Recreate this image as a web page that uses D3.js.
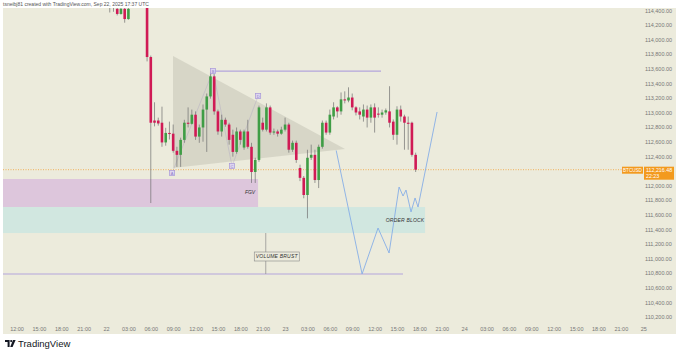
<html>
<meta charset="utf-8" />
<script src="https://d3js.org/d3.v7.min.js"></script>
<style>
  body { margin: 0; background: #fff; }
  text { font-family: "Liberation Sans", Arial, sans-serif; }
</style>
<body>
<script>
  // 30 min BTCUSD candles, first one at Sep 22 00:30
  const firstBar = new Date(Date.UTC(2025, 8, 22, 0, 30));
  const candleOpen = [
    114520, 114500, 114420, 114350, 114420, 114280, 114600, 114700, 114650, 114760,
    114800, 113760, 112890, 112890, 112860, 112590, 112720, 112710, 112475, 112420,
    112625, 112860, 112845, 112970, 112670, 112795, 113040, 113220, 113495, 113015,
    112740, 112900, 112835, 112695, 112460, 112740, 112520, 112740, 112530, 112185,
    112350, 112860, 112765, 113070, 112725, 112740, 112710, 112765, 112835, 112490,
    112585, 112240, 112105, 111870, 112380, 112420, 112075, 112530, 112860, 112725,
    112945, 113070, 113015, 113180, 113165, 113205, 113070, 113015, 112945, 113040,
    112930, 113070, 112985, 112970, 113000, 113015, 112875, 112695, 113040, 112945,
    112860, 112860, 112420
  ];
  const candleHigh = [
    114560, 114540, 114470, 114460, 114480, 114490, 114760, 114800, 114820, 114850,
    114850, 113780, 113140, 112930, 113080, 112790, 112875, 112835, 112530, 112655,
    112900, 113070, 113040, 113015, 112835, 113110, 113260, 113550, 113525, 113040,
    112970, 112930, 112860, 112765, 112795, 112765, 112765, 112900, 112585, 112380,
    113095, 112930, 113125, 113095, 112780, 112765, 112805, 112930, 112860, 112615,
    112615, 112285, 112130, 112490, 112560, 112490, 112560, 112890, 112890, 113040,
    113140, 113085, 113275, 113290, 113345, 113260, 113085, 113070, 113110, 113095,
    113110, 113125, 113070, 113040, 113055, 113360, 112905, 113085, 113095, 112970,
    112945, 112875, 112450
  ];
  const candleLow = [
    114370, 114380, 114330, 114340, 114230, 114270, 114520, 114560, 114600, 114620,
    113700, 111760, 112810, 112820, 112530, 112545, 112630, 112450, 112255, 112255,
    112585, 112795, 112835, 112625, 112585, 112600, 112460, 113190, 112970, 112695,
    112670, 112805, 112560, 112395, 112435, 112560, 112490, 112505, 112035, 112035,
    112325, 112740, 112740, 112695, 112695, 112670, 112695, 112740, 112450, 112460,
    112310, 112060, 111825, 111550, 112350, 112035, 111965, 112505, 112695, 112695,
    112905, 112930, 112970, 113125, 113140, 113030, 112960, 112905, 112875, 112795,
    112860, 112725, 112930, 112930, 112970, 112795, 112625, 112560, 112875, 112490,
    112490, 112395, 112185
  ];
  const candleClose = [
    114500, 114470, 114350, 114420, 114280, 114420, 114700, 114650, 114760, 114700,
    113760, 112860, 112860, 112850, 112590, 112720, 112705, 112475, 112420, 112625,
    112860, 112845, 112970, 112670, 112795, 113040, 113220, 113495, 113015, 112740,
    112900, 112835, 112625, 112460, 112740, 112625, 112740, 112530, 112185, 112350,
    113070, 112765, 113070, 112725, 112740, 112710, 112765, 112835, 112490, 112585,
    112350, 112105, 111870, 112380, 112420, 112075, 112530, 112860, 112725, 112970,
    113070, 113015, 113180, 113165, 113205, 113070, 113000, 112970, 113040, 112930,
    113070, 112930, 112970, 113000, 113030, 112860, 112695, 113040, 112945, 112860,
    112845, 112420, 112216.48
  ];
  const lastPrice = 112216.48;

  const priceTicks = d3.range(110200, 114401, 200);
  const timeTickLabels = [
    "12:00", "15:00", "18:00", "21:00", "22", "03:00", "06:00", "09:00", "12:00", "15:00",
    "18:00", "21:00", "23", "03:00", "06:00", "09:00", "12:00", "15:00", "18:00", "21:00",
    "24", "03:00", "06:00", "09:00", "12:00", "15:00", "18:00", "21:00", "25"
  ];

  // drawings: hours after Sep 22 00:00, price
  const trianglePts = [[8.98, 113774], [32.04, 112500], [8.98, 112240]];
  const patternPts = [[8.85, 112171], [14.34, 113568], [16.89, 112267], [20.38, 113226]];
  const patternLabels = ["A", "B", "C", "D"];
  const topLine = [[14.34, 113568], [36.86, 113568]];
  const lowLine = [[-12, 110788], [39.81, 110788]];
  const fgvZone = [[-12, 112089], [20.38, 111705]];
  const orderBlock = [[-12, 111705], [42.76, 111349]];
  const volumeMark = [[21.41, 111349], [21.41, 110788]];
  const projection = [
    [30.85, 112480], [34.32, 110788], [36.46, 111418], [37.94, 111075], [39.28, 111979],
    [39.81, 111856], [40.21, 111938], [40.88, 111637], [41.42, 111829], [41.82, 111705],
    [44.37, 113007]
  ];

  const W = 680, H = 355;
  const plot = { left: 3, right: 643, top: 8, bottom: 320 };
  const day0 = Date.UTC(2025, 8, 22);
  const hrs = (h) => new Date(day0 + h * 3600e3);

  const svg = d3.select("body").append("svg").attr("width", W).attr("height", H);

  const x = d3.scaleUtc()
    .domain([new Date(Date.UTC(2025, 8, 21, 12)), new Date(Date.UTC(2025, 8, 25, 0))])
    .range([16.5, 643.2]);
  const y = d3.scaleLinear().domain([110200, 114400]).range([316.9, 10.3]);

  svg.append("rect").attr("x", 3).attr("y", 8).attr("width", 673).attr("height", 326)
    .attr("fill", "#ecebdc");

  svg.append("clipPath").attr("id", "clip")
    .append("rect").attr("x", plot.left).attr("y", plot.top)
    .attr("width", plot.right - plot.left).attr("height", plot.bottom - plot.top);

  const g = svg.append("g").attr("clip-path", "url(#clip)");

  const px = (d) => [x(hrs(d[0])), y(d[1])];

  // zones
  const zone = (z, color) => g.append("rect")
    .attr("x", plot.left).attr("y", y(z[0][1]))
    .attr("width", x(hrs(z[1][0])) - plot.left)
    .attr("height", y(z[1][1]) - y(z[0][1]))
    .attr("fill", color);
  zone(fgvZone, "#ddc6dc");
  zone(orderBlock, "#d1e7e0");

  // triangle pattern
  g.append("polygon")
    .attr("points", trianglePts.map((d) => px(d).join(",")).join(" "))
    .attr("fill", "rgba(140,140,128,0.22)");
  g.append("path")
    .attr("d", d3.line()(patternPts.map(px)))
    .attr("fill", "none").attr("stroke", "rgba(150,140,190,0.45)").attr("stroke-width", 0.6);

  // horizontal lines
  [topLine, lowLine].forEach((l) => {
    g.append("line")
      .attr("x1", l[0][0] < 0 ? plot.left : x(hrs(l[0][0]))).attr("x2", x(hrs(l[1][0])))
      .attr("y1", y(l[0][1])).attr("y2", y(l[1][1]))
      .attr("stroke", "#b3a5dc").attr("stroke-width", 1.2);
  });

  // last price line
  g.append("line")
    .attr("x1", plot.left).attr("x2", 622)
    .attr("y1", y(lastPrice)).attr("y2", y(lastPrice))
    .attr("stroke", "#f3a33a").attr("stroke-width", 0.8).attr("stroke-dasharray", "1,1.5");

  // candles
  const candles = candleOpen.map((o, i) => ({
    t: new Date(firstBar.getTime() + i * 1800e3),
    o, h: candleHigh[i], l: candleLow[i], c: candleClose[i]
  }));
  const up = "#3f9d45", down = "#d01a55";
  const cg = g.append("g");
  cg.selectAll("line").data(candles).enter().append("line")
    .attr("x1", (d) => x(d.t)).attr("x2", (d) => x(d.t))
    .attr("y1", (d) => y(d.h)).attr("y2", (d) => y(d.l))
    .attr("stroke", "#707070").attr("stroke-width", 0.7);
  cg.selectAll("rect").data(candles).enter().append("rect")
    .attr("x", (d) => x(d.t) - 1.3).attr("width", 2.6)
    .attr("y", (d) => y(Math.max(d.o, d.c)))
    .attr("height", (d) => Math.max(0.8, Math.abs(y(d.o) - y(d.c))))
    .attr("fill", (d) => (d.c >= d.o ? up : down));

  // pattern point squares
  patternPts.forEach((d, i) => {
    const [cx, cy] = px(d);
    g.append("rect").attr("x", cx - 2.6).attr("y", cy - 2.6).attr("width", 5.2).attr("height", 5.2)
      .attr("fill", "#ddd5f0").attr("stroke", "#a898d8").attr("stroke-width", 0.7);
    g.append("text").attr("x", cx).attr("y", cy + 1.5).attr("text-anchor", "middle")
      .attr("font-size", 4).attr("fill", "#8f80c8").text(patternLabels[i]);
  });

  // projection path
  g.append("path")
    .attr("d", d3.line()(projection.map(px)))
    .attr("fill", "none").attr("stroke", "#86aee6").attr("stroke-width", 0.9);

  // volume burst marker
  const vx = x(hrs(volumeMark[0][0]));
  g.append("line").attr("x1", vx).attr("x2", vx)
    .attr("y1", y(volumeMark[0][1])).attr("y2", y(volumeMark[1][1]))
    .attr("stroke", "#8a8a8a").attr("stroke-width", 0.7);
  const vy = (y(volumeMark[0][1]) + y(volumeMark[1][1])) / 2 + 3;
  g.append("rect").attr("x", vx - 11.5).attr("y", vy - 4.5).attr("width", 45).attr("height", 9)
    .attr("fill", "#ecebdc").attr("stroke", "#888").attr("stroke-width", 0.6);
  g.append("text").attr("x", vx + 11).attr("y", vy + 1.8).attr("text-anchor", "middle")
    .attr("font-size", 5).attr("font-style", "italic").attr("fill", "#333")
    .attr("letter-spacing", 0.2).text("VOLUME BRUST");

  g.append("text").attr("x", x(hrs(fgvZone[1][0])) - 8).attr("y", 194)
    .attr("text-anchor", "middle").attr("font-size", 5).attr("font-style", "italic")
    .attr("fill", "#333").text("FGV");
  g.append("text").attr("x", x(hrs(orderBlock[1][0])) - 20).attr("y", 221.5)
    .attr("text-anchor", "middle").attr("font-size", 5).attr("font-style", "italic")
    .attr("fill", "#333").attr("letter-spacing", 0.2).text("ORDER BLOCK");

  // axes
  const timeTicks = d3.utcHour.every(3).range(x.domain()[0], new Date(x.domain()[1].getTime() + 1));
  const xAxis = svg.append("g").attr("transform", "translate(0,324)")
    .call(d3.axisBottom(x).tickValues(timeTicks).tickSize(0)
      .tickFormat((d, i) => timeTickLabels[i]));
  xAxis.select(".domain").remove();
  xAxis.selectAll("text").attr("font-size", 5.5).attr("fill", "#777")
    .attr("font-family", "Liberation Sans, Arial, sans-serif");

  const yAxis = svg.append("g").attr("transform", "translate(643,0)")
    .call(d3.axisRight(y).tickValues(priceTicks).tickSize(0).tickPadding(2)
      .tickFormat(d3.format(",.2f")));
  yAxis.select(".domain").remove();
  yAxis.selectAll("text").attr("font-size", 5.5).attr("fill", "#777")
    .attr("font-family", "Liberation Sans, Arial, sans-serif");

  // price labels
  const ly = y(lastPrice);
  svg.append("rect").attr("x", 622).attr("y", ly - 3).attr("width", 21).attr("height", 7)
    .attr("fill", "#f39a1e");
  svg.append("text").attr("x", 632.5).attr("y", ly + 2.2).attr("text-anchor", "middle")
    .attr("font-size", 4.6).attr("fill", "#fff").text("BTCUSD");
  svg.append("rect").attr("x", 644).attr("y", ly - 3).attr("width", 30).attr("height", 13)
    .attr("fill", "#f39a1e");
  svg.append("text").attr("x", 646).attr("y", ly + 2.5)
    .attr("font-size", 5.3).attr("fill", "#fff").text(d3.format(",.2f")(lastPrice));
  svg.append("text").attr("x", 646).attr("y", ly + 8.5)
    .attr("font-size", 5.3).attr("fill", "#fff").text("22:23");

  // header strip
  svg.append("rect").attr("x", 0).attr("y", 0).attr("width", W).attr("height", 8).attr("fill", "#fff");
  svg.append("text").attr("x", 3).attr("y", 6).attr("font-size", 5).attr("fill", "#555")
    .text("tsneibj81 created with TradingView.com, Sep 22, 2025 17:37 UTC");

  // footer logo
  const logo = svg.append("g").attr("transform", "translate(5,340)").attr("fill", "#131722");
  logo.append("path").attr("d", "M0,0H4.6V7H2.6V2H0Z");
  logo.append("circle").attr("cx", 6.2).attr("cy", 1.1).attr("r", 1.1);
  logo.append("path").attr("d", "M8,0H10.6L7.6,7H5.2Z");
  svg.append("text").attr("x", 18).attr("y", 347.3).attr("font-size", 9.5)
    .attr("fill", "#131722").attr("font-family", "Lato, 'Liberation Sans', sans-serif")
    .text("TradingView");
</script>
</body>
</html>
